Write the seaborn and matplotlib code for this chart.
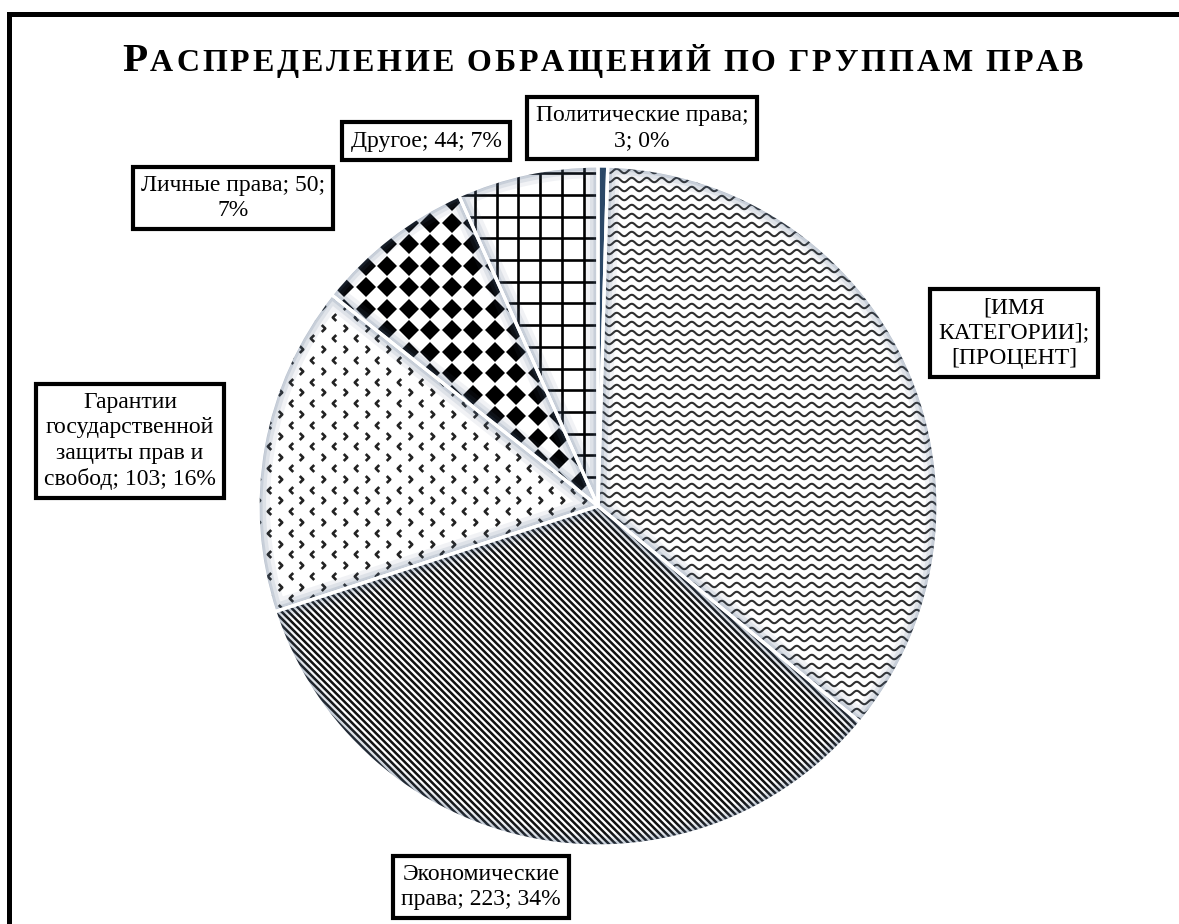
import numpy as np
import matplotlib
matplotlib.use("Agg")
import matplotlib.pyplot as plt
import seaborn as sns
from matplotlib.patches import Wedge
from matplotlib.collections import LineCollection
from matplotlib.path import Path
from matplotlib.lines import Line2D
from matplotlib.transforms import IdentityTransform

# data, clockwise from 12 o'clock
categories = ["Политические права", "[ИМЯ КАТЕГОРИИ]", "Экономические права",
              "Гарантии государственной защиты прав и свобод", "Личные права", "Другое"]
values = [3, 233, 223, 103, 50, 44]
label_texts = ["Политические права;\n3; 0%",
               "[ИМЯ\nКАТЕГОРИИ];\n[ПРОЦЕНТ]",
               "Экономические\nправа; 223; 34%",
               "Гарантии\nгосударственной\nзащиты прав и\nсвобод; 103; 16%",
               "Личные права; 50;\n7%",
               "Другое; 44; 7%"]
title = "РАСПРЕДЕЛЕНИЕ ОБРАЩЕНИЙ ПО ГРУППАМ ПРАВ"

# layout (pixels, measured from the top-left corner)
W, H = 1179, 924
CX, CY, R = 598, 506, 340
PX = 1.0 / R
label_pos = [(642, 128), (1014, 333), (481, 887), (130, 441), (233, 198), (426, 141)]

sns.set_theme(style="white")
plt.rcParams["font.family"] = ["Liberation Serif", "DejaVu Serif"]
plt.rcParams["text.color"] = "black"

fig = plt.figure(figsize=(W / 100, H / 100), dpi=100)
fig.patch.set_facecolor("white")
ax = fig.add_axes([(CX - R) / W, (H - CY - R) / H, 2 * R / W, 2 * R / H])

wedges, _ = ax.pie(values, startangle=90, counterclock=False,
                   colors=["white"] * len(values), wedgeprops=dict(linewidth=0))


def clip_to(artist, w):
    artist.set_clip_path(w)
    artist.set_zorder(2)
    return artist


def wavy(w):
    xs = np.linspace(-1, 1, 1500)
    segs = [np.column_stack([xs, y0 + 2.2 * PX * np.sin(2 * np.pi * xs / (15 * PX))])
            for y0 in np.arange(-1, 1, 9 * PX)]
    ax.add_collection(clip_to(LineCollection(segs, colors="#2e2e2e", linewidths=1.5), w))


def diagonal(w):
    step = 4.8 * PX * np.sqrt(2)
    segs = [[(-1, c + 1), (1, c - 1)] for c in np.arange(-2.1, 2.1, step)]
    ax.add_collection(clip_to(LineCollection(segs, colors="#111111", linewidths=1.8), w))


def chevrons(w):
    left = Path([(0.5, 1), (-0.5, 0), (0.5, -1)])
    right = Path([(-0.5, 1), (0.5, 0), (-0.5, -1)])
    dx, dy = 21.7 * PX, 10.8 * PX
    for k, y in enumerate(np.arange(-1, 1, dy)):
        xs = np.arange(-1, 1, dx) + (k % 2) * 0.5 * dx
        mk = right if k % 2 == 0 else left
        ln, = ax.plot(xs, np.full_like(xs, y), ls="none", marker=mk, ms=5,
                      mfc="none", mec="#222222", mew=1.9)
        clip_to(ln, w)


def diamonds(w):
    g = np.arange(-1, 1, 21.5 * PX)
    gx, gy = np.meshgrid(g, g)
    ln, = ax.plot(gx.ravel(), gy.ravel(), ls="none", marker="D", ms=10,
                  color="black", mew=0)
    clip_to(ln, w)


def grid(w):
    g = np.arange(-1, 1, 21.7 * PX)
    segs = [[(v, -1), (v, 1)] for v in g] + [[(-1, v), (1, v)] for v in g]
    ax.add_collection(clip_to(LineCollection(segs, colors="black", linewidths=1.9), w))


wedges[0].set_facecolor("#1f3c5e")
wavy(wedges[1])
diagonal(wedges[2])
chevrons(wedges[3])
diamonds(wedges[4])
grid(wedges[5])

# soft shading along the inner edges, then white separators
for w in wedges:
    for lw, a in [(24, 0.08), (16, 0.11), (9, 0.15), (4, 0.2)]:
        g = Wedge((0, 0), 1, w.theta1, w.theta2, fill=False, edgecolor="#4d6584",
                  linewidth=lw * 0.72, alpha=a, zorder=3)
        ax.add_patch(g)
        g.set_clip_path(w)
    ax.add_patch(Wedge((0, 0), 1, w.theta1, w.theta2, fill=False,
                       edgecolor="white", linewidth=2.4, zorder=4))

for txt, (px, py) in zip(label_texts, label_pos):
    ax.text((px - CX) * PX, (CY - py) * PX, txt, ha="center", va="center",
            multialignment="center", fontsize=17, linespacing=1.27, zorder=6,
            clip_on=False, color="black",
            bbox=dict(boxstyle="square,pad=0.35", fc="white", ec="black", lw=3))

ax.set_xlim(-1, 1)
ax.set_ylim(-1, 1)
ax.axis("off")

# title with small caps and letter spacing
rend = fig.canvas.get_renderer()
parts = []
for i, ch in enumerate(title):
    if ch == " ":
        parts.append(None)
        continue
    t = fig.text(0, H - 71, ch, fontsize=29.5 if i == 0 else 23, fontweight="bold",
                 color="black", transform=IdentityTransform(), va="baseline", ha="left")
    parts.append(t)
widths = [p.get_window_extent(rend).width if p else 0 for p in parts]
word_gap = 10
n_letters = sum(1 for p in parts if p)
spacing = (961 - sum(widths) - word_gap * title.count(" ")) / (n_letters - 1)
x = 122
for p, wdt in zip(parts, widths):
    if p is None:
        x += word_gap
        continue
    p.set_x(x)
    x += wdt + spacing

# frame
fig.add_artist(Line2D([9.2, 9.2], [0, H - 14.2], transform=IdentityTransform(),
                      lw=3.6, color="black", solid_capstyle="projecting"))
fig.add_artist(Line2D([9.2, W], [H - 14.2, H - 14.2], transform=IdentityTransform(),
                      lw=3.6, color="black", solid_capstyle="projecting"))

fig.savefig("out.png", dpi=100, facecolor="white")
